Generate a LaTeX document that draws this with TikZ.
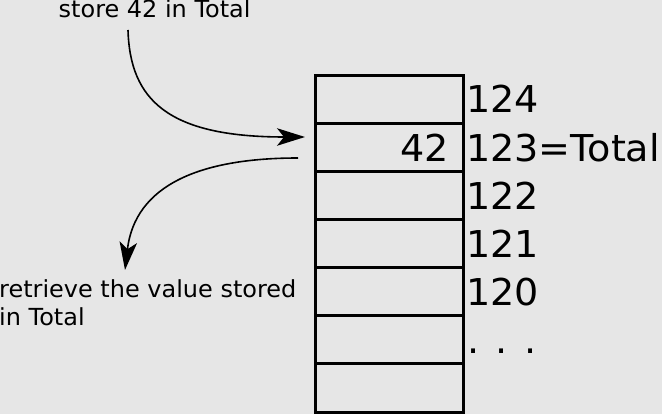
\documentclass[tikz,border=0pt]{standalone}
\usepackage{fontspec}
\setmainfont{DejaVu Sans}
\newfontfamily\bigfont[FakeStretch=1.03]{DejaVu Sans}
\newfontfamily\smallfont[FakeStretch=1.02]{DejaVu Sans}
\usetikzlibrary{arrows.meta}
\definecolor{bg}{HTML}{E6E6E6}
\tikzset{
  cell/.style={draw=black, line width=3pt, minimum width=148pt, minimum height=48pt, inner sep=0pt, outer sep=0pt},
  addr/.style={anchor=base west, inner sep=0pt, font=\bigfont\fontsize{37}{44}\selectfont},
  note/.style={anchor=base west, inner sep=0pt, align=left, font=\smallfont\fontsize{23.5}{28}\selectfont},
  flow/.style={line width=1.6pt, -{Stealth[length=28pt, width=17.5pt, inset=7pt]}}
}
\begin{document}
\begin{tikzpicture}[x=1pt, y=-1pt]
\useasboundingbox[fill=bg] (0,0) rectangle (662,414);
% memory cells
\foreach \i in {0,...,6} {
  \node[cell] (c\i) at (389, {100+48*\i}) {};
}
% addresses
\node[addr] (a0) at (466, 112.7) {124};
\node[addr] (a1) at (466, 161.2) {123=Total};
\node[addr] (a2) at (466, 209.3) {122};
\node[addr] (a3) at (466, 257.5) {121};
\node[addr] (a4) at (466, 306) {120};
\node[addr] (a5) at (467, 353) {.\hspace{16.4pt}.\hspace{16.4pt}.};
% value
\node[addr, anchor=base east] (v) at (449, 161.2) {42};
% notes
\node[note] (store) at (58.5, 17.8) {store 42 in Total};
\node[note] (retr) at (-1, 325.3) {retrieve the value stored\\in Total};
% arrows
\coordinate (s0) at (128, 30);
\coordinate (s1) at (305, 137);
\coordinate (r0) at (298, 158);
\coordinate (r1) at (125, 270);
\draw[flow] (s0) .. controls (130, 100) and (168, 137) .. (s1);
\draw[flow] (r0) .. controls (200, 158) and (135, 185) .. (r1);
\end{tikzpicture}
\end{document}
